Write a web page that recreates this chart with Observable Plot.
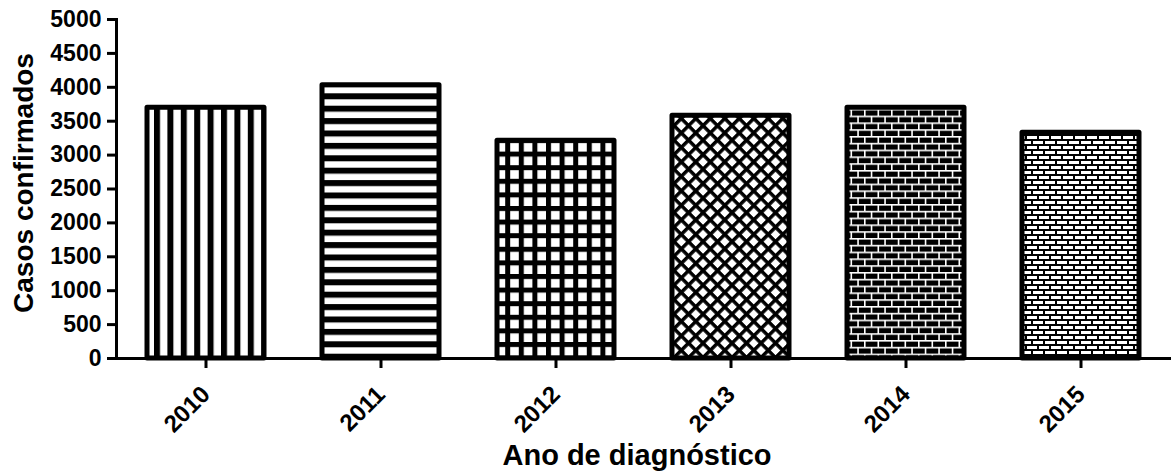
<!DOCTYPE html>
<html><head><meta charset="utf-8">
<script src="https://cdn.jsdelivr.net/npm/d3@7"></script>
<script src="https://cdn.jsdelivr.net/npm/@observablehq/plot@0.6"></script>
<style>body{margin:0;background:#fff}</style>
</head><body><div id="chart"></div>
<script>
const years = ["2010", "2011", "2012", "2013", "2014", "2015"];
const cases = [3700, 4030, 3210, 3580, 3700, 3330];
const yTicks = [0, 500, 1000, 1500, 2000, 2500, 3000, 3500, 4000, 4500, 5000];
const patternIds = ["pV", "pH", "pG", "pX", "pB", "pW"];

const data = years.map((y, i) => ({year: y, cases: cases[i], fill: `url(#${patternIds[i]})`}));
const font = "'Liberation Sans', Arial, sans-serif";

const plot = Plot.plot({
  width: 1171, height: 474,
  marginLeft: 116, marginRight: 0, marginTop: 19, marginBottom: 116,
  style: {fontFamily: font, fontWeight: "bold", fontSize: "23px", color: "#000", background: "#fff"},
  x: {domain: years, paddingInner: 0.33, paddingOuter: 0.165, label: null},
  y: {domain: [0, 5000], label: null},
  color: {type: "identity"},
  marks: [
    Plot.barY(data, {x: "year", y: "cases", fill: "fill", stroke: "#000", strokeWidth: 5, strokeLinejoin: "round"}),
    Plot.ruleY([0], {stroke: "#000", strokeWidth: 3}),
    Plot.frame({anchor: "left", stroke: "#000", strokeWidth: 3}),
    Plot.axisY({ticks: yTicks, tickFormat: d => String(d), tickSize: 9, tickPadding: 6, strokeWidth: 3, fontSize: 23, fontWeight: "bold", label: null}),
    Plot.axisX({tickSize: 10, tickPadding: 22, tickRotate: -45, strokeWidth: 3, fontSize: 24, fontWeight: "bold", label: null}),
    Plot.text(["Casos confirmados"], {frameAnchor: "left", textAnchor: "middle", rotate: -90, dx: -92, dy: -6, fontSize: 28, fontWeight: "bold", fill: "#000"}),
    Plot.text(["Ano de diagnóstico"], {frameAnchor: "bottom", dx: -7, dy: 106, fontSize: 29, fontWeight: "bold", fill: "#000"})
  ]
});

const svg = d3.select(plot);
const defs = svg.insert("defs", ":first-child");
defs.html(`
<pattern id="pV" patternUnits="userSpaceOnUse" x="6.6" y="0" width="13.4" height="10">
  <rect width="13.4" height="10" fill="#fff"/><rect width="6" height="10" fill="#000"/>
</pattern>
<pattern id="pH" patternUnits="userSpaceOnUse" x="0" y="6.5" width="10" height="12.4">
  <rect width="10" height="12.4" fill="#fff"/><rect width="10" height="6" fill="#000"/>
</pattern>
<pattern id="pG" patternUnits="userSpaceOnUse" x="2" y="2" width="13.6" height="13.6">
  <rect width="13.6" height="13.6" fill="#fff"/>
  <rect width="5" height="13.6" fill="#000"/><rect width="13.6" height="5" fill="#000"/>
</pattern>
<pattern id="pX" patternUnits="userSpaceOnUse" width="10.25" height="10.25" patternTransform="rotate(45)">
  <rect width="10.25" height="10.25" fill="#fff"/>
  <rect width="3.5" height="10.25" fill="#000"/><rect width="10.25" height="3.5" fill="#000"/>
</pattern>
<pattern id="pB" patternUnits="userSpaceOnUse" width="27" height="13.6">
  <rect width="27" height="13.6" fill="#000"/>
  <rect x="0" y="0" width="27" height="1.6" fill="#fff"/>
  <rect x="0" y="6.8" width="27" height="1.6" fill="#fff"/>
  <rect x="0" y="0" width="1.6" height="6.8" fill="#fff"/>
  <rect x="13.5" y="0" width="1.6" height="6.8" fill="#fff"/>
  <rect x="6.75" y="6.8" width="1.6" height="6.8" fill="#fff"/>
  <rect x="20.25" y="6.8" width="1.6" height="6.8" fill="#fff"/>
</pattern>
<pattern id="pW" patternUnits="userSpaceOnUse" width="24" height="10">
  <rect width="24" height="10" fill="#000"/>
  <rect x="1" y="1" width="10" height="3" fill="#fff"/>
  <rect x="13" y="1" width="10" height="3" fill="#fff"/>
  <rect x="-5" y="6" width="10" height="3" fill="#fff"/>
  <rect x="7" y="6" width="10" height="3" fill="#fff"/>
  <rect x="19" y="6" width="10" height="3" fill="#fff"/>
</pattern>`);

document.getElementById("chart").appendChild(plot);
</script>
</body></html>
